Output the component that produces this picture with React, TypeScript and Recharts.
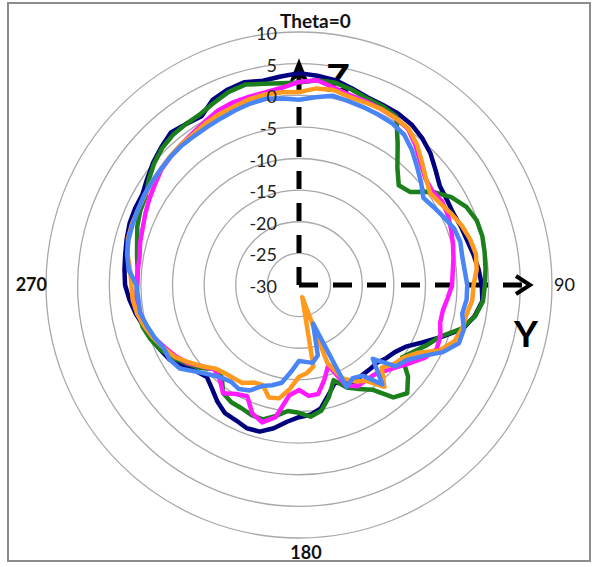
import React from 'react';
import { RadarChart, Radar, PolarGrid, PolarAngleAxis, PolarRadiusAxis, Customized } from 'recharts';

const angles = [0,5,10,15,20,25,30,35,40,45,50,55,60,65,70,75,80,85,90,95,100,105,110,115,120,125,130,135,140,145,150,155,160,165,170,175,180,185,190,195,200,205,210,215,220,225,230,235,240,245,250,255,260,265,270,275,280,285,290,295,300,305,310,315,320,325,330,335,340,345,350,355];

const navy = [3.5,3.2,2.9,2.2,1.6,1.4,1.3,1.0,0.3,-0.6,-1.8,-2.8,-3.0,-3.1,-2.8,-2.5,-2.0,-1.5,-1.1,-0.9,-1.8,-3.2,-6.0,-8.5,-10.5,-11.5,-12.0,-12.6,-12.6,-12.6,-12.3,-13.0,-13.5,-12.0,-10.2,-9.4,-9.1,-8.3,-7.0,-6.0,-5.9,-6.4,-6.6,-7.5,-8.6,-9.4,-8.8,-7.8,-6.4,-5.8,-5.2,-4.6,-3.8,-3.1,-2.5,-2.3,-2.1,-1.8,-1.5,-1.4,-1.4,-0.7,0.1,0.8,1.5,1.1,0.8,2.3,2.9,3.2,2.8,3.1];
const green = [2.0,2.5,2.5,2.0,1.4,1.2,0.8,-2.8,-5.8,-7.7,-7.1,-4.3,-2.2,-0.8,-0.1,0.0,-0.2,-0.4,-0.6,-0.8,-1.7,-3.4,-6.2,-7.6,-9.0,-10.1,-7.5,-5.8,-6.8,-9.8,-11.0,-12.1,-14.0,-11.7,-9.8,-9.1,-9.8,-10.0,-9.0,-8.0,-8.1,-8.5,-8.6,-9.1,-11.0,-11.2,-9.6,-8.3,-7.0,-5.8,-5.0,-4.4,-4.3,-4.2,-4.4,-4.4,-4.0,-3.5,-2.8,-2.3,-2.0,-1.0,-0.1,0.6,1.0,1.1,1.2,1.8,2.5,2.8,2.3,2.0];
const magenta = [2.1,2.5,1.7,1.1,0.9,0.7,0.5,0.1,-1.3,-2.8,-3.9,-4.2,-3.8,-4.0,-4.4,-4.8,-5.2,-5.6,-5.8,-6.4,-6.9,-6.9,-6.2,-6.0,-7.0,-8.5,-9.8,-10.8,-11.5,-11.6,-11.5,-12.5,-16.5,-14.5,-12.5,-12.4,-13.4,-12.5,-8.8,-7.5,-8.4,-10.6,-10.1,-9.1,-10.5,-11.1,-10.0,-8.5,-7.5,-6.6,-5.6,-5.0,-4.5,-4.2,-4.4,-4.4,-4.4,-4.0,-3.7,-3.2,-2.7,-2.2,-1.6,-1.3,-1.0,-0.7,-0.2,0.4,0.7,0.8,0.9,1.3];
const orange = [0.5,1.2,1.3,0.8,0.7,0.7,0.5,0.2,-1.0,-2.5,-3.8,-4.7,-4.2,-3.4,-2.6,-2.0,-1.6,-1.8,-2.4,-2.5,-3.1,-3.3,-3.9,-5.5,-8.5,-9.9,-10.5,-11.5,-9.0,-11.5,-12.4,-13.7,-16.9,-28.0,-16.9,-16.0,-15.5,-13.5,-11.8,-11.6,-13.2,-13.0,-12.1,-12.0,-11.8,-11.3,-10.0,-8.7,-7.3,-6.4,-5.5,-4.7,-4.0,-3.6,-3.5,-3.2,-2.5,-2.0,-1.9,-1.9,-1.8,-1.6,-1.5,-1.2,-1.0,-0.9,-0.5,-0.2,0.0,0.4,0.6,0.6];
const blue = [-0.7,-0.2,0.4,0.1,-0.1,-0.3,-0.5,-1.0,-2.2,-3.6,-4.8,-6.0,-5.4,-4.7,-3.9,-3.6,-3.8,-3.7,-3.4,-3.4,-3.8,-3.0,-3.1,-4.9,-7.5,-9.3,-10.0,-13.5,-9.5,-12.5,-13.0,-12.2,-23.5,-18.5,-17.5,-17.8,-18.0,-16.3,-14.3,-13.6,-13.0,-11.6,-11.0,-11.3,-10.9,-10.0,-8.7,-7.0,-6.4,-6.4,-5.7,-5.1,-4.5,-4.5,-4.3,-3.0,-2.4,-2.1,-2.0,-1.9,-1.7,-1.6,-1.5,-1.3,-1.2,-1.2,-1.1,-0.9,-0.6,-0.3,-0.1,-0.4];

const radiusTicks = [-30, -25, -20, -15, -10, -5, 0, 5, 10];
const angleLabels: Record<number, string> = { 0: 'Theta=0', 90: '90', 180: '180', 270: '270' };

const data = angles.map((a, i) => ({
  angle: a,
  navy: navy[i],
  green: green[i],
  magenta: magenta[i],
  orange: orange[i],
  blue: blue[i],
}));

const W = 595;
const H = 567;
const CX = 299;
const CY = 285;
const R = 253;
const FONT = "Lato, 'Open Sans', sans-serif";

const RadiusTick = (props: any) => {
  const { x, y, payload } = props;
  return (
    <text x={x - 22} y={y + 1} textAnchor="end" dominantBaseline="central" fontSize={18} fill="#222" fontFamily={FONT}>
      {payload.value}
    </text>
  );
};

const AngleTick = (props: any) => {
  const { x, y, payload } = props;
  const v = payload.value;
  const label = angleLabels[v];
  if (label === undefined) return <g />;
  let tx = x, ty = y, anchor: any = 'middle', weight = 'bold', size = 18;
  if (v === 0) { tx = x - 19; ty = y - 4; anchor = 'start'; size = 19; }
  if (v === 90) { tx = x - 6; ty = y - 1; anchor = 'start'; weight = 'normal'; }
  if (v === 180) { tx = x + 7; ty = y + 6; anchor = 'middle'; }
  if (v === 270) { tx = x + 9; ty = y - 1; anchor = 'end'; }
  return (
    <text x={tx} y={ty} textAnchor={anchor} dominantBaseline="central" fontSize={size} fontWeight={weight} fill="#111" fontFamily={FONT}>
      {label}
    </text>
  );
};

const Annotations = () => (
  <g>
    <rect x={8} y={3} width={582} height={558} fill="none" stroke="#8c8c8c" strokeWidth={2} />
    <line x1={CX} y1={CY} x2={CX} y2={76} stroke="#000" strokeWidth={5} strokeDasharray="18 14" />
    <path d={`M${CX},${61} L${CX + 8},${81} L${CX},${75} L${CX - 8},${81} Z`} fill="#000" stroke="#000" strokeWidth={2} strokeLinejoin="miter" />
    <line x1={CX} y1={CY} x2={527} y2={CY} stroke="#000" strokeWidth={5} strokeDasharray="19 15" />
    <path d={`M516,${CY - 9} L530,${CY} L516,${CY + 9}`} fill="none" stroke="#000" strokeWidth={4} />
    <text x={338} y={77} textAnchor="middle" dominantBaseline="central" fontSize={38} fontWeight="bold" fill="#000" fontFamily={FONT}>Z</text>
    <text x={526} y={332} textAnchor="middle" dominantBaseline="central" fontSize={37} fontWeight="bold" fill="#000" fontFamily={FONT}>Y</text>
  </g>
);

export default function App() {
  return (
    <div style={{ position: 'absolute', left: 0, top: 0, width: W, height: H, background: '#fff' }}>
      <RadarChart width={W} height={H} data={data} cx={CX} cy={CY} outerRadius={R} startAngle={90} endAngle={-270} margin={{ top: 0, right: 0, bottom: 0, left: 0 }}>
        <PolarGrid gridType="circle" radialLines={false} stroke="#a8a8a8" strokeWidth={1.3} />
        <PolarAngleAxis dataKey="angle" axisLine={false} tickLine={false} tick={AngleTick} />
        <PolarRadiusAxis angle={90} domain={[-30, 10]} ticks={radiusTicks as any} tickCount={9} axisLine={false} tickLine={false} tick={RadiusTick} />
        <Radar dataKey="navy" stroke="#00007f" strokeWidth={4.5} strokeLinejoin="round" fill="none" fillOpacity={0} dot={false} isAnimationActive={false} />
        <Radar dataKey="green" stroke="#1b7f1b" strokeWidth={4.5} strokeLinejoin="round" fill="none" fillOpacity={0} dot={false} isAnimationActive={false} />
        <Radar dataKey="magenta" stroke="#ff1aff" strokeWidth={4.5} strokeLinejoin="round" fill="none" fillOpacity={0} dot={false} isAnimationActive={false} />
        <Radar dataKey="orange" stroke="#ff9a1f" strokeWidth={4.5} strokeLinejoin="round" fill="none" fillOpacity={0} dot={false} isAnimationActive={false} />
        <Radar dataKey="blue" stroke="#4a85f5" strokeWidth={4.5} strokeLinejoin="round" fill="none" fillOpacity={0} dot={false} isAnimationActive={false} />
        <Customized component={<Annotations />} />
      </RadarChart>
    </div>
  );
}
